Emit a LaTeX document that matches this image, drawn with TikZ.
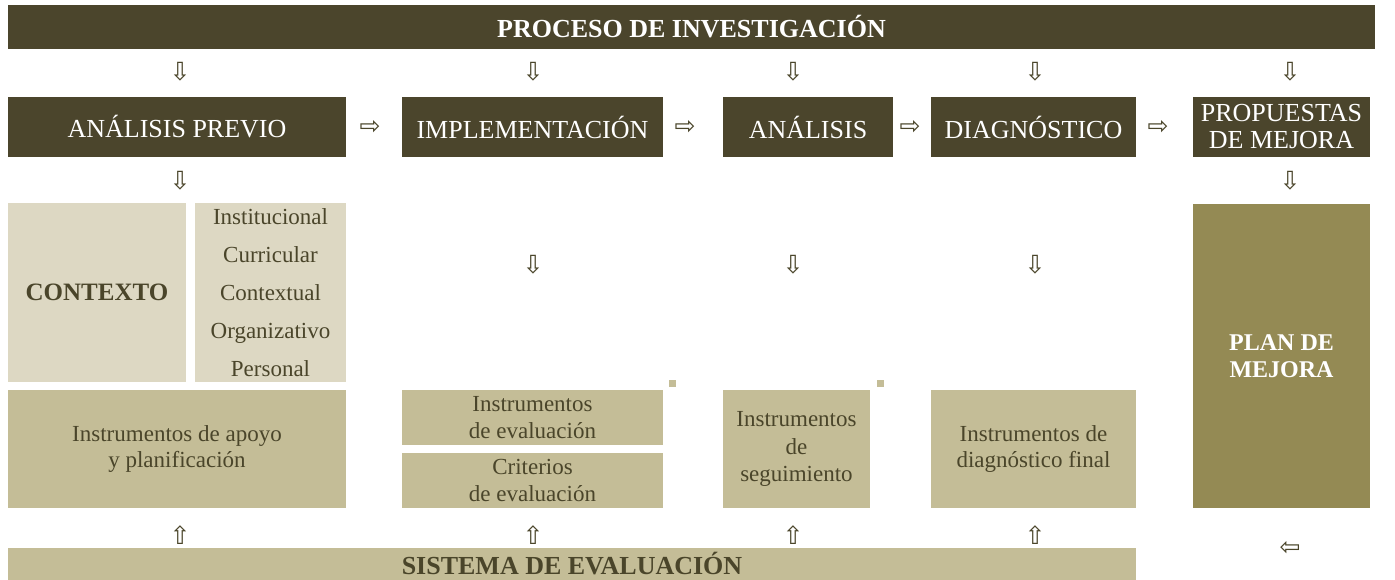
\documentclass[tikz,border=0pt]{standalone}
\usepackage{fontspec}
\setmainfont{Liberation Serif}
\newfontfamily\arrowfont{DejaVu Sans}
\usetikzlibrary{positioning}
\definecolor{barbrown}{HTML}{4B452C}
\definecolor{lightsand}{HTML}{DDD8C3}
\definecolor{sand}{HTML}{C4BD97}
\definecolor{olive}{HTML}{948A54}
\definecolor{inkbrown}{HTML}{4A452A}

\tikzset{
	stage/.style={fill=barbrown, text=white, inner sep=0pt, align=center, minimum height=60pt,
		font=\fontsize{26}{27}\selectfont},
	context/.style={fill=lightsand, text=inkbrown, inner sep=0pt, align=center, minimum height=179pt},
	tool/.style={fill=sand, text=inkbrown, inner sep=0pt, align=center,
		font=\fontsize{23}{26.5}\selectfont},
	glyph/.style={inner sep=0pt, text=inkbrown, font=\arrowfont\fontsize{25}{25}\selectfont},
}

\begin{document}
\begin{tikzpicture}[x=1pt,y=-1pt]
	\useasboundingbox (0,0) rectangle (1395,580);
	\clip (0,0) rectangle (1395,580);

	% top and bottom bars
	\node[fill=barbrown, text=white, inner sep=0pt, minimum width=1367pt, minimum height=44pt,
		font=\bfseries\fontsize{26}{27}\selectfont] (proceso) at (691.5,27) {PROCESO DE INVESTIGACIÓN};
	\node[fill=sand, text=inkbrown, inner sep=0pt, minimum width=1128pt, minimum height=32pt,
		font=\bfseries\fontsize{26}{27}\selectfont] (sistema) at (572,564) {SISTEMA DE EVALUACIÓN};

	% stages
	\node[stage, minimum width=338pt] (previo) at (177,127) {ANÁLISIS PREVIO};
	\node[stage, minimum width=261pt] (implem) at (532.5,127) {IMPLEMENTACIÓN};
	\node[stage, minimum width=170pt] (analisis) at (808,127) {ANÁLISIS};
	\node[stage, minimum width=205pt] (diagnos) at (1033.5,127) {DIAGNÓSTICO};
	\node[stage, minimum width=177pt] (propuestas) at (1281.5,127) {PROPUESTAS\\DE MEJORA};

	% context
	\node[context, minimum width=178pt, font=\bfseries\fontsize{25}{27}\selectfont] (contexto) at (97,292.5) {CONTEXTO};
	\node[context, minimum width=151pt, font=\fontsize{23}{38}\selectfont] (ambitos) at (270.5,292.5)
		{Institucional\\Curricular\\Contextual\\Organizativo\\Personal};

	% instruments
	\node[tool, minimum width=338pt, minimum height=118pt] (apoyo) at (177,449) {Instrumentos de apoyo\\y planificación};
	\node[tool, minimum width=261pt, minimum height=55pt] (insteval) at (532.5,417.5) {Instrumentos\\de evaluación};
	\node[tool, minimum width=261pt, minimum height=55pt] (criterios) at (532.5,480.5) {Criterios\\de evaluación};
	\node[tool, minimum width=147pt, minimum height=118pt, font=\fontsize{23}{27.5}\selectfont] (seguim) at (796.5,449) {Instrumentos\\de\\seguimiento};
	\node[tool, minimum width=205pt, minimum height=118pt] (diagfin) at (1033.5,449) {Instrumentos de\\diagnóstico final};
	\fill[sand] (669,380) rectangle ++(7,7);
	\fill[sand] (877,380) rectangle ++(7,7);

	% plan
	\node[fill=olive, text=white, inner sep=0pt, align=center, minimum width=177pt, minimum height=304pt,
		font=\bfseries\fontsize{24}{27}\selectfont] (plan) at (1281.5,356) {PLAN DE\\MEJORA};

	% block arrows
	\foreach \x/\n in {180/a,533/b,793/c,1035/d,1290/e}
		\node[glyph] (down\n) at (\x,72) {⇩};
	\node[glyph] (downf) at (180,181) {⇩};
	\node[glyph] (downg) at (1290,181) {⇩};
	\foreach \x/\n in {533/h,793/i,1035/j}
		\node[glyph] (down\n) at (\x,265) {⇩};
	\foreach \x/\n in {370/a,685/b,910/c,1158/d}
		\node[glyph] (right\n) at (\x,127) {⇨};
	\foreach \x/\n in {180/a,533/b,793/c,1035/d}
		\node[glyph] (up\n) at (\x,535) {⇧};
	\node[glyph] (left) at (1290,548) {⇦};
\end{tikzpicture}
\end{document}
